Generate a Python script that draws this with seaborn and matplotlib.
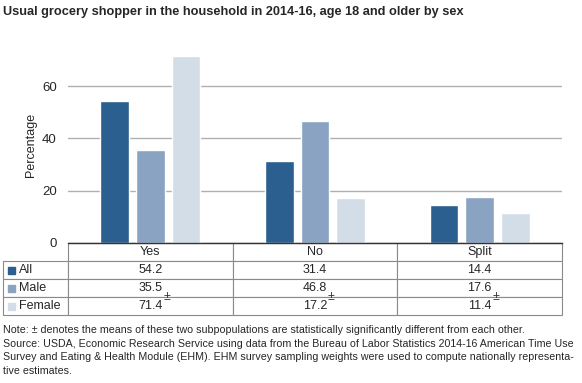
import matplotlib
matplotlib.use('Agg')
import matplotlib.pyplot as plt
from matplotlib.patches import Rectangle
import seaborn as sns
import pandas as pd

# Data
answers = ["Yes", "No", "Split"]
groups = ["All", "Male", "Female"]
all_vals = [54.2, 31.4, 14.4]
male_vals = [35.5, 46.8, 17.6]
female_vals = [71.4, 17.2, 11.4]
colors = ["#2a5f8f", "#8aa3c2", "#d3dde8"]

title = "Usual grocery shopper in the household in 2014-16, age 18 and older by sex"
note = ("Note: \u00b1 denotes the means of these two subpopulations are statistically significantly different from each other.\n"
        "Source: USDA, Economic Research Service using data from the Bureau of Labor Statistics 2014-16 American Time Use\n"
        "Survey and Eating & Health Module (EHM). EHM survey sampling weights were used to compute nationally representa-\n"
        "tive estimates.")

df = pd.DataFrame({
    "answer": answers * 3,
    "group": [g for g in groups for _ in answers],
    "value": all_vals + male_vals + female_vals,
})

sns.set_style("white")
plt.rcParams['font.family'] = ['Liberation Sans', 'DejaVu Sans']

fig = plt.figure(figsize=(5.82, 3.83), dpi=100)
W, H = 582, 383
ax = fig.add_axes([68 / W, 1 - 243 / H, 494 / W, 196 / H])

sns.barplot(data=df, x="answer", y="value", hue="group", palette=colors,
            width=0.65, gap=0.2, ax=ax, legend=False, saturation=1)

ax.set_xlim(-0.5, 2.5)
ax.set_ylim(0, 75)
ax.set_yticks([0, 20, 40, 60])
ax.yaxis.grid(True, color="#b0b0b0", linewidth=1)
ax.set_axisbelow(True)
for s in ["top", "right", "left"]:
    ax.spines[s].set_visible(False)
ax.spines["bottom"].set_color("#333333")
ax.spines["bottom"].set_linewidth(1)
ax.set_xticks([])
ax.set_xlabel("")
ax.set_ylabel("Percentage", fontsize=9, labelpad=4)
ax.tick_params(axis="y", labelsize=9.5, length=0, pad=8)

# Table under the chart
rows = [[""] + answers]
for g, vals in zip(groups, [all_vals, male_vals, female_vals]):
    rows.append([g] + [f"{v:.1f}" for v in vals])

left_px = 3
tbl_w = 562 - left_px
col_w = [65 / tbl_w] + [165 / tbl_w] * 3
tbl = ax.table(cellText=rows, colWidths=col_w, cellLoc="center",
               bbox=[(left_px - 68) / 494, -72 / 196, tbl_w / 494, 72 / 196])
tbl.auto_set_font_size(False)
for (r, c), cell in tbl.get_celld().items():
    cell.set_fontsize(9)
    cell.set_edgecolor("#8a8a8a")
    cell.set_linewidth(0.8)
    cell.PAD = 0.02
    if c == 0:
        cell._loc = "left"
        cell.get_text().set_ha("left")
        cell.PAD = 16 / 65
    if r == 0 and c == 0:
        cell.visible_edges = ""

# colored squares for row labels
for i, col in enumerate(colors):
    yc = 243 + 18 * (i + 1) + 9
    fig.patches.append(Rectangle((8 / W, 1 - (yc + 3.5) / H), 7 / W, 7 / H,
                                 transform=fig.transFigure, color=col, figure=fig))

# significance markers between Male and Female rows
for j in range(3):
    ax.text(j + 0.1, -54 / 196, "\u00b1", transform=ax.get_xaxis_transform(),
            fontsize=9, ha="center", va="center", color="#333333")

fig.text(3 / W, 1 - 6 / H, title, fontsize=9.2, fontweight="bold", va="top", ha="left")
fig.text(3 / W, 1 - 325 / H, note, fontsize=7.65, va="top", ha="left", linespacing=1.45)

plt.savefig("out.png", dpi=100)
plt.close()
